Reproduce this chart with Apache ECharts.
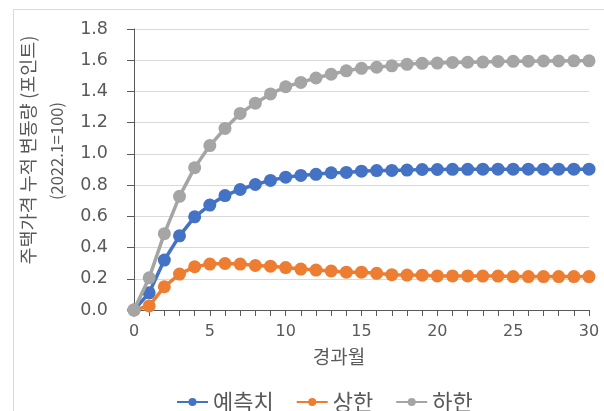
<!DOCTYPE html>
<html>
<head>
<meta charset="utf-8">
<style>
html,body{margin:0;padding:0;background:#fff;}
#c{width:604px;height:411px;}
</style>
<script src="https://cdn.jsdelivr.net/npm/echarts@6/dist/echarts.min.js"></script>
</head>
<body>
<div id="c"></div>
<script>
const months = [0,1,2,3,4,5,6,7,8,9,10,11,12,13,14,15,16,17,18,19,20,21,22,23,24,25,26,27,28,29,30];
const forecast = [0,0.11,0.32,0.475,0.597,0.672,0.733,0.772,0.804,0.83,0.851,0.862,0.869,0.879,0.881,0.889,0.893,0.894,0.896,0.9,0.9,0.901,0.901,0.902,0.902,0.902,0.902,0.902,0.902,0.902,0.902];
const upper = [0,0.026,0.149,0.23,0.277,0.294,0.298,0.294,0.285,0.281,0.272,0.262,0.256,0.25,0.242,0.242,0.235,0.226,0.224,0.223,0.218,0.218,0.218,0.217,0.217,0.214,0.214,0.214,0.214,0.214,0.214];
const lower = [0,0.206,0.489,0.728,0.912,1.053,1.163,1.259,1.325,1.384,1.43,1.458,1.486,1.51,1.532,1.548,1.555,1.564,1.574,1.58,1.582,1.586,1.587,1.588,1.592,1.593,1.594,1.595,1.595,1.596,1.596];
const seriesNames = ['예측치','상한','하한'];
const colors = ['#4472C4','#ED7D31','#A5A5A5'];
const yTitle1 = '주택가격 누적 변동량 (포인트)';
const yTitle2 = '(2022.1=100)';
const xTitle = '경과월';

const chart = echarts.init(document.getElementById('c'), null, {renderer:'canvas'});
const dataSets = [forecast, upper, lower];
const kr = '"Noto Sans CJK KR", "Noto Sans", sans-serif';
chart.setOption({
  animation:false,
  backgroundColor:'#fff',
  grid:{left:134, right:15, top:29, bottom:101, containLabel:false},
  legend:{
    data:seriesNames,
    left:171, top:386,
    itemWidth:31, itemHeight:10, itemGap:22,
    textStyle:{fontSize:22, color:'#595959', fontFamily:kr}
  },
  xAxis:{
    type:'value', min:0, max:30, interval:1,
    axisLine:{show:true, lineStyle:{color:'#595959', width:1}},
    axisTick:{show:true, length:6, lineStyle:{color:'#595959'}},
    axisLabel:{margin:14, fontSize:16, color:'#595959', fontFamily:'"DejaVu Sans", sans-serif',
      formatter:function(v){return v%5===0 ? String(v) : '';}},
    splitLine:{show:false}
  },
  yAxis:{
    type:'value', min:0, max:1.8, interval:0.2,
    axisLine:{show:true, lineStyle:{color:'#595959', width:1}},
    axisTick:{show:true, length:7, lineStyle:{color:'#595959'}},
    axisLabel:{margin:26, fontSize:17.5, color:'#595959', fontFamily:'"DejaVu Sans", sans-serif',
      formatter:function(v){return v.toFixed(1);}},
    splitLine:{show:true, lineStyle:{color:'#D9D9D9', width:1}}
  },
  graphic:[
    {type:'rect', shape:{x:13.5, y:9.5, width:700, height:600}, style:{fill:'none', stroke:'#D9D9D9', lineWidth:1}, silent:true, z:-10},
    {type:'text', x:28, y:150, rotation:Math.PI/2, style:{text:yTitle1, fontSize:18.5, fill:'#595959', fontFamily:kr, align:'center', verticalAlign:'middle'}},
    {type:'text', x:57, y:151, rotation:Math.PI/2, style:{text:yTitle2, fontSize:16.5, fill:'#595959', fontFamily:kr, align:'center', verticalAlign:'middle'}},
    {type:'text', x:339, y:357, style:{text:xTitle, fontSize:19, fill:'#595959', fontFamily:kr, align:'center', verticalAlign:'middle'}}
  ],
  series: seriesNames.map(function(n,i){
    return {
      name:n, type:'line',
      data: months.map(function(m,j){return [m, dataSets[i][j]];}),
      symbol:'circle', symbolSize:13, showSymbol:true,
      lineStyle:{color:colors[i], width:3.5},
      itemStyle:{color:colors[i]},
      z:2+i
    };
  })
});
</script>
</body>
</html>
